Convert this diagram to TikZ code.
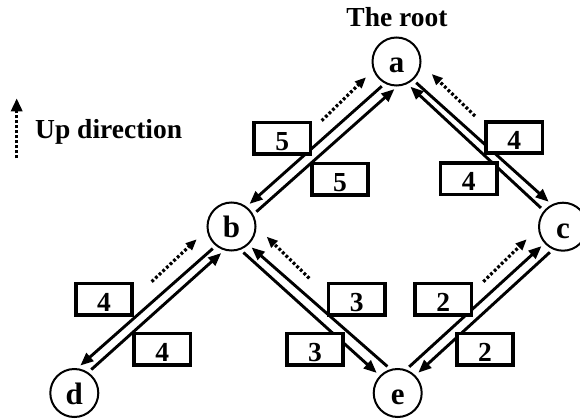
\documentclass[tikz,border=0pt]{standalone}
\usepackage{fontspec}
\setmainfont{Liberation Serif}
\usetikzlibrary{arrows.meta}
\begin{document}
\begin{tikzpicture}[x=1pt,y=-1pt,
  vertex/.style={draw, circle, line width=2pt, minimum size=48pt, inner sep=0pt,
    font=\fontsize{31}{31}\selectfont\bfseries, text height=23pt, text depth=0pt},
  wbox/.style={draw, fill=white, line width=3.7pt, minimum width=56.5pt, minimum height=31.5pt,
    inner sep=0pt, font=\fontsize{27.5}{27.5}\selectfont\bfseries, text height=24pt, text depth=0pt},
  conn/.style={line width=2.9pt, -{Triangle[length=13pt,width=10.5pt]}, shorten <=4pt, shorten >=4pt},
  updir/.style={line width=3.2pt, dash pattern=on 2.8pt off 2.2pt, -{Triangle[length=11pt,width=9pt]}},
  lbl/.style={font=\fontsize{27.5}{27.5}\selectfont\bfseries, inner sep=0pt}
]
\useasboundingbox (0,0) rectangle (580,419);

% vertices
\node[vertex] (a) at (396.5,61.5) {a};
\node[vertex] (b) at (231.5,226.5) {b};
\node[vertex] (c) at (563,226.7) {c};
\node[vertex] (d) at (74.3,393) {d};
\node[vertex] (e) at (397.7,393) {e};

% labels
\node[lbl, anchor=base] (root) at (397,26.7) {The root};
\node[lbl, anchor=base west] (uplbl) at (35,138.3) {Up direction};

% connectors
\draw[conn] (a.-118) -- (b.53);
\draw[conn] (b.29) -- (a.-88);
\draw[conn] (a.-48) -- (c.117);
\draw[conn] (c.140) -- (a.-64);
\draw[conn] (b.-129) -- (d.83);
\draw[conn] (d.56) -- (b.-107);
\draw[conn] (e.107) -- (b.-47);
\draw[conn] (b.-69) -- (e.136);
\draw[conn] (e.70) -- (c.-138);
\draw[conn] (c.-114) -- (e.45);

% up-direction arrows
\coordinate (ab1) at (321.7,120.7); \coordinate (ab2) at (366,77.3);
\coordinate (ac1) at (475,116);     \coordinate (ac2) at (431.7,74);
\coordinate (bd1) at (151.7,281.7); \coordinate (bd2) at (196.7,239.3);
\coordinate (be1) at (309.3,278.3); \coordinate (be2) at (266.7,236.7);
\coordinate (ce1) at (483.3,281.7); \coordinate (ce2) at (526.7,239.3);
\coordinate (lg1) at (16.7,158.3);  \coordinate (lg2) at (16.7,98.3);
\draw[updir] (ab1) -- (ab2);
\draw[updir] (ac1) -- (ac2);
\draw[updir] (bd1) -- (bd2);
\draw[updir] (be1) -- (be2);
\draw[updir] (ce1) -- (ce2);
\draw[updir, -{Triangle[length=13pt,width=11pt]}] (lg1) -- (lg2);

% weight boxes
\node[wbox] (w1) at (282.2,138.3) {5};
\node[wbox] (w2) at (340,179.2) {5};
\node[wbox] (w3) at (514.2,137.5) {4};
\node[wbox] (w4) at (468.8,178.8) {4};
\node[wbox] (w5) at (104,299.2) {4};
\node[wbox] (w6) at (162.2,349.2) {4};
\node[wbox] (w7) at (356.7,299.2) {3};
\node[wbox] (w8) at (315,349.2) {3};
\node[wbox] (w9) at (443.3,299.2) {2};
\node[wbox] (w10) at (485,349.2) {2};
\end{tikzpicture}
\end{document}
